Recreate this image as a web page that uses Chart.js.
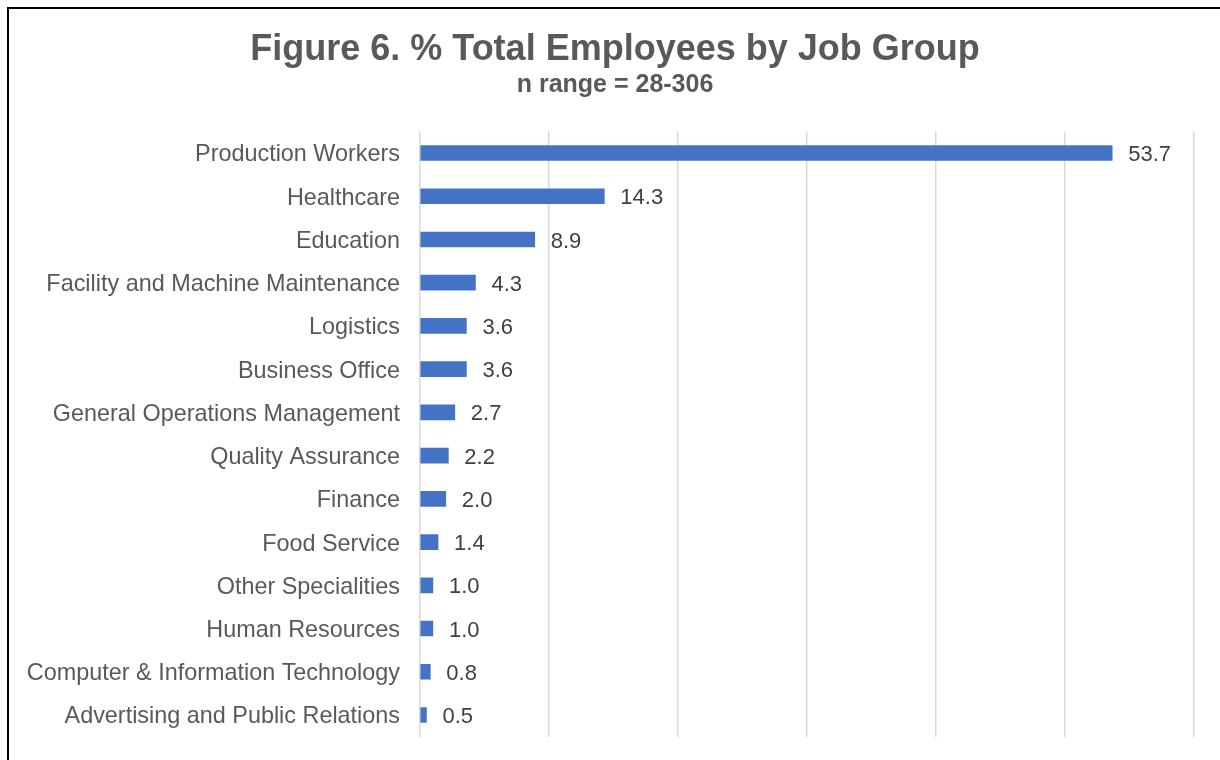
<!DOCTYPE html>
<html>
<head>
<meta charset="utf-8">
<script src="https://cdn.jsdelivr.net/npm/chart.js@4.4.1/dist/chart.umd.min.js"></script>
<style>
  html, body { margin: 0; padding: 0; background: #fff; overflow: hidden; }
  #wrap { position: relative; width: 1220px; height: 760px; }
  #frame { position: absolute; left: 7px; top: 7px; width: 1400px; height: 900px; border: 2px solid #000; pointer-events: none; box-sizing: border-box; }
  canvas { position: absolute; left: 0; top: 0; }
</style>
</head>
<body>
<div id="wrap">
  <canvas id="c" width="1220" height="760"></canvas>
  <div id="frame"></div>
</div>
<script>
const titleText = "Figure 6. % Total Employees by Job Group";
const subtitleText = "n range = 28-306";
const categories = [
  "Production Workers",
  "Healthcare",
  "Education",
  "Facility and Machine Maintenance",
  "Logistics",
  "Business Office",
  "General Operations Management",
  "Quality Assurance",
  "Finance",
  "Food Service",
  "Other Specialities",
  "Human Resources",
  "Computer & Information Technology",
  "Advertising and Public Relations"
];
const percentValues = [53.7, 14.3, 8.9, 4.3, 3.6, 3.6, 2.7, 2.2, 2.0, 1.4, 1.0, 1.0, 0.8, 0.5];
const xMin = 0;
const xMax = 60;
const xStep = 10;

const FONT = "'Liberation Sans', Arial, Helvetica, sans-serif";

const valueLabels = {
  id: 'valueLabels',
  afterDatasetsDraw(chart) {
    const ctx = chart.ctx;
    const meta = chart.getDatasetMeta(0);
    const data = chart.data.datasets[0].data;
    ctx.save();
    ctx.font = "22px " + FONT;
    ctx.fillStyle = "#404040";
    ctx.textAlign = "left";
    ctx.textBaseline = "middle";
    meta.data.forEach((bar, i) => {
      ctx.fillText(Number(data[i]).toFixed(1), bar.x + 16, bar.y + 2);
    });
    ctx.restore();
  }
};

// centre the title blocks over the whole framed figure rather than the padded box
const titleShift = {
  id: 'titleShift',
  afterLayout(chart) {
    chart.boxes.forEach(b => {
      if (b.options && (b.options.text === titleText || b.options.text === subtitleText)) {
        b.left = 36.6;
        b.right = chart.chartArea.right;
      }
    });
  }
};

new Chart(document.getElementById('c'), {
  type: 'bar',
  data: {
    labels: categories,
    datasets: [{
      data: percentValues,
      backgroundColor: '#4472C4',
      borderWidth: 0,
      barThickness: 15
    }]
  },
  options: {
    indexAxis: 'y',
    responsive: false,
    animation: false,
    devicePixelRatio: 1,
    layout: { padding: { left: 0, right: 26.6, top: 0, bottom: 23.4 } },
    plugins: {
      legend: { display: false },
      tooltip: { enabled: false },
      title: {
        display: true,
        text: titleText,
        color: '#595959',
        font: { family: FONT, size: 36, weight: 'bold', lineHeight: 1.2 },
        padding: { top: 28, bottom: 0 }
      },
      subtitle: {
        display: true,
        text: subtitleText,
        color: '#595959',
        font: { family: FONT, size: 25, weight: 'bold', lineHeight: 1.1 },
        padding: { top: 0, bottom: 32.7 }
      }
    },
    scales: {
      x: {
        min: xMin,
        max: xMax,
        ticks: { display: false, stepSize: xStep },
        grid: { color: '#d9d9d9', lineWidth: 1.5, drawTicks: false },
        border: { display: false }
      },
      y: {
        ticks: {
          color: '#595959',
          font: { family: FONT, size: 23.4 },
          padding: 20,
          labelOffset: 2,
          autoSkip: false
        },
        grid: { display: false, drawTicks: false },
        border: { display: false },
        afterFit(scale) {
          scale.width = 420;
          scale.paddingTop = 0;
          scale.paddingBottom = 0;
        }
      }
    }
  },
  plugins: [valueLabels, titleShift]
});
</script>
</body>
</html>
